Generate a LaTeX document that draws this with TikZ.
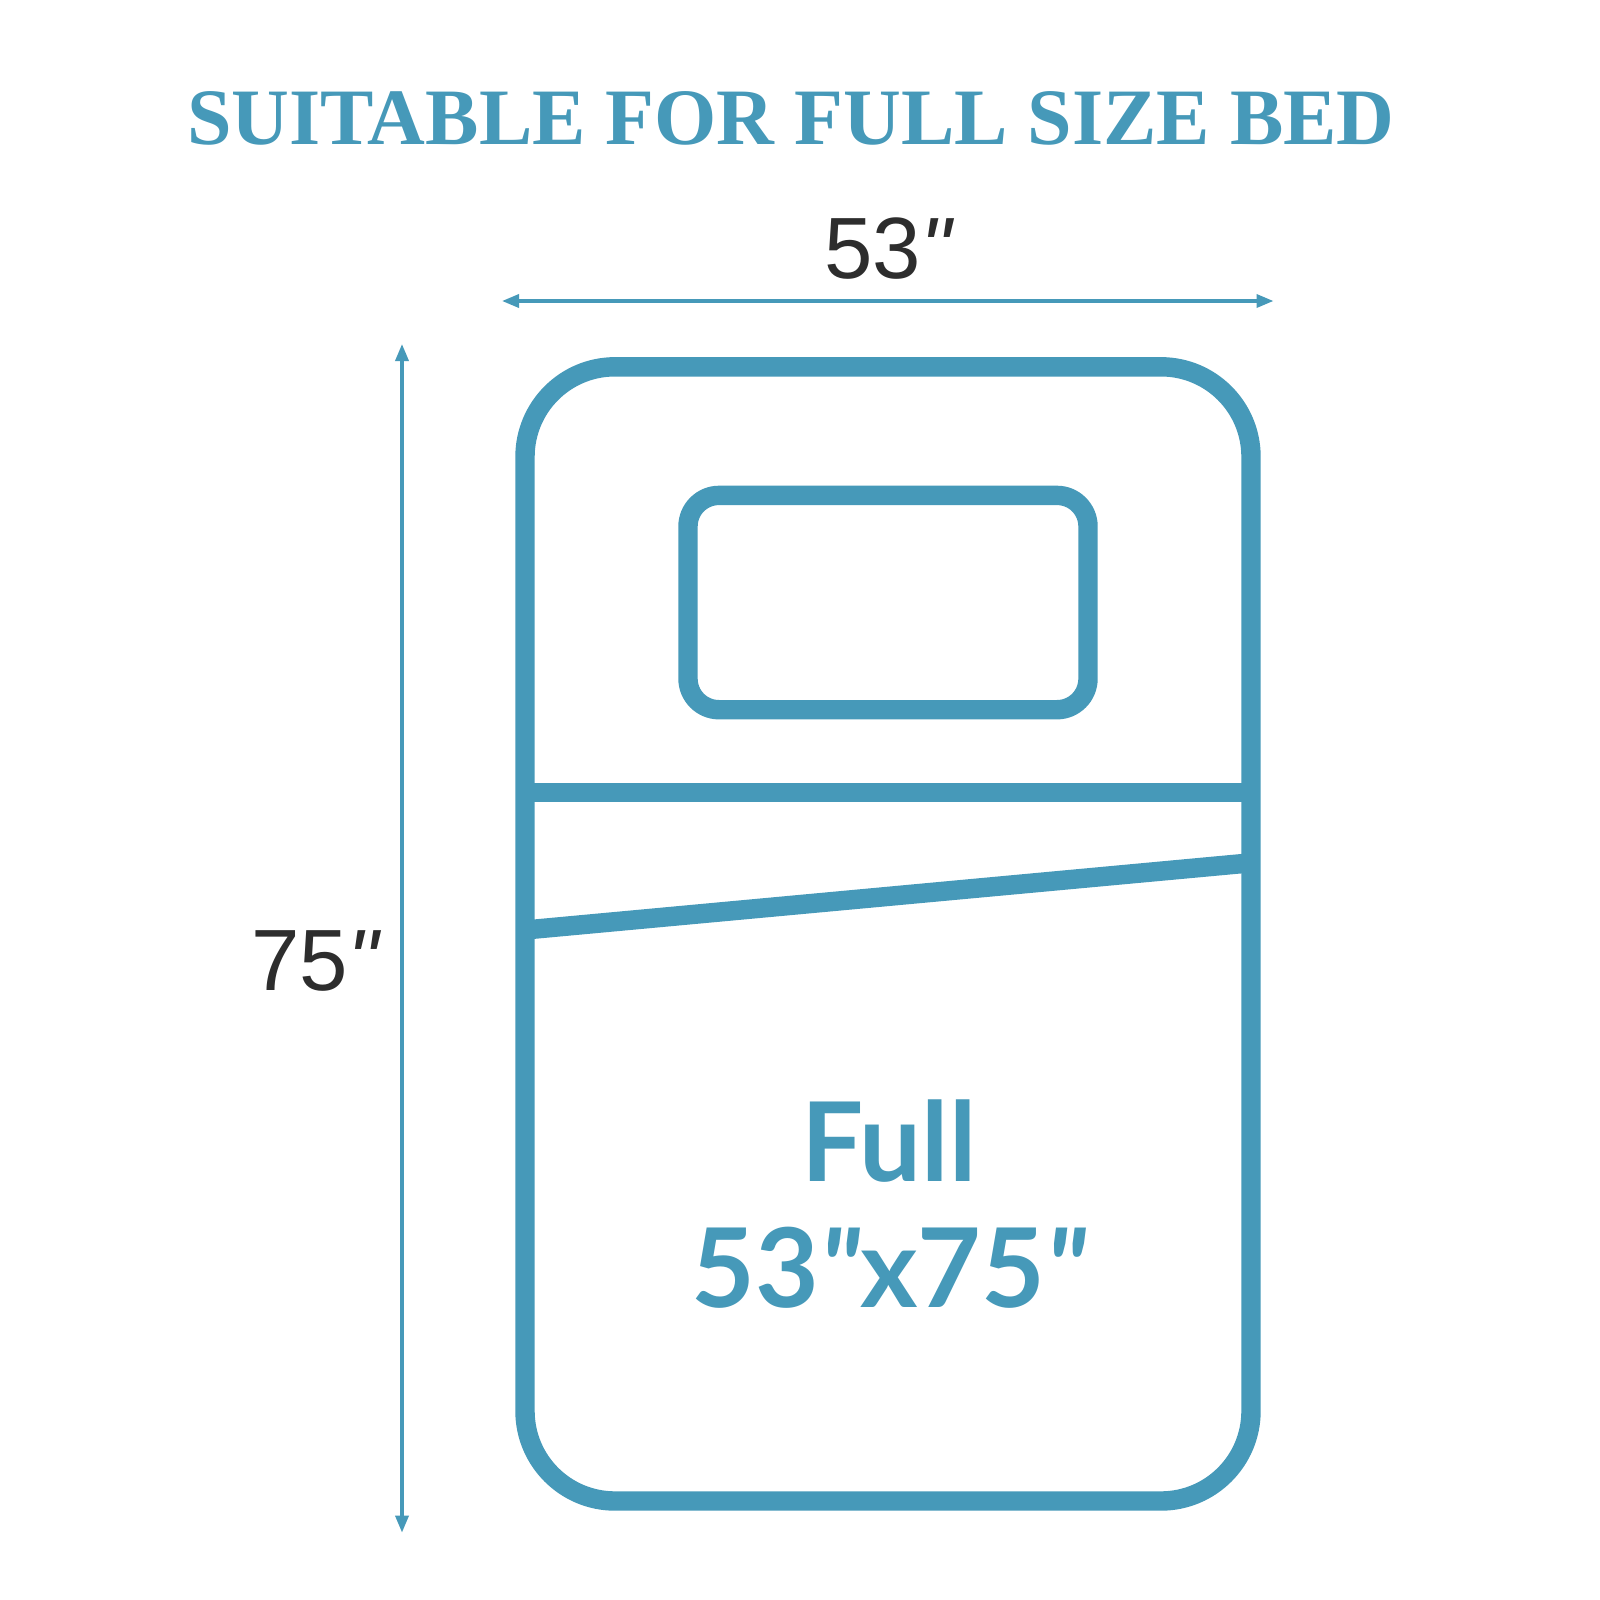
\documentclass[tikz,border=0pt]{standalone}
\usepackage{fontspec}
\setmainfont{Liberation Serif}
\newfontfamily\dimfont{Liberation Sans}
\newfontfamily\bedfont{Lato}
\usetikzlibrary{arrows.meta}
\definecolor{bedblue}{RGB}{70,153,185}
\definecolor{dimgray}{RGB}{45,45,45}
\tikzset{
	frame/.style={draw=bedblue, line width=19.4pt},
	dimline/.style={draw=bedblue, line width=3.5pt, {Triangle[length=17pt,width=13pt]}-{Triangle[length=17pt,width=13pt]}},
	dimlabel/.style={anchor=base, inner sep=0pt, text=dimgray, font=\dimfont\fontsize{87}{87}\selectfont},
	bedlabel/.style={anchor=base, inner sep=0pt, text=bedblue, font=\bedfont\bfseries\fontsize{110}{110}\selectfont}
}

\begin{document}
\begin{tikzpicture}[x=1pt, y=-1pt]
			%%%%% START %%%%%
			\useasboundingbox[fill=white] (0, 0) rectangle (1600, 1600);
			
			\node[anchor=base, inner sep=0pt, text=bedblue, font=\bfseries\fontsize{80}{80}\selectfont] (title) at (791, 145) {SUITABLE FOR FULL SIZE BED};
			
			% width and length
			\coordinate (wleft) at (502, 301);
			\coordinate (wright) at (1273.5, 301);
			\draw[dimline] (wleft) -- (wright);
			\node[dimlabel] (wlabel) at (888, 278.6) {53{\itshape "}};
			
			\coordinate (ltop) at (402, 344);
			\coordinate (lbottom) at (402, 1532.6);
			\draw[dimline] (ltop) -- (lbottom);
			\node[dimlabel] (llabel) at (315, 990) {75{\itshape "}};
			
			% bed
			\draw[frame, rounded corners=90pt] (525, 366.8) rectangle (1251, 1501);
			\draw[frame, rounded corners=31pt] (688, 495.4) rectangle (1088, 709.7);
			\draw[frame] (525, 792.4) -- (1251, 792.4);
			\draw[frame] (525, 930) -- (1251, 862.8);
			
			\node[bedlabel] (size) at (889, 1181.7) {Full};
			\node[bedlabel] (sizedim) at (889, 1307) {53{\itshape "}x75{\itshape "}};
			%%%%% END %%%%%
\end{tikzpicture}
\end{document}
